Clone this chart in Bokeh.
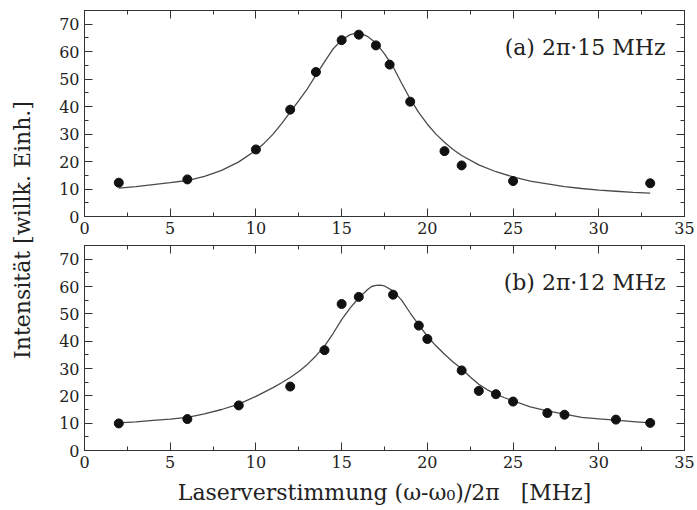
import math
from bokeh.plotting import figure
from bokeh.models import (Range1d, LinearAxis, SingleIntervalTicker, Label,
                          CustomJSTickFormatter)
from bokeh.layouts import row, column
from bokeh.embed import file_html
from bokeh.resources import INLINE

# ---------------- data ----------------
# panel (a): measured points and fitted curve (read from the picture)
a_x = [2, 6, 10, 12, 13.5, 15, 16, 17, 17.8, 19, 21, 22, 25, 33]
a_y = [12.3, 13.5, 24.4, 38.9, 52.6, 64.2, 66.2, 62.3, 55.3, 41.8, 23.8, 18.6, 12.9, 12.1]
a_fit_x = [2, 3, 4, 5, 6, 7, 8, 9, 10, 10.5, 11, 11.5, 12, 12.5, 13, 13.5, 14, 14.5,
           15, 15.5, 15.75, 16, 16.25, 16.5, 17, 17.5, 18, 18.5, 19, 19.5, 20, 20.5,
           21, 21.5, 22, 23, 24, 25, 26, 27, 28, 29, 30, 31, 32, 33]
a_fit_y = [10.3, 10.9, 11.6, 12.3, 13.1, 14.6, 16.8, 19.9, 24.1, 26.8, 30.0, 33.8, 38.0,
           42.2, 46.5, 51.5, 56.3, 61.0, 64.3, 66.2, 66.6, 66.7, 66.3, 65.6, 63.2, 59.2,
           54.5, 48.5, 42.8, 37.8, 33.6, 30.0, 27.0, 24.4, 22.2, 18.8, 16.3, 14.4, 12.9,
           11.9, 10.9, 10.2, 9.6, 9.2, 8.8, 8.5]

b_x = [2, 6, 9, 12, 14, 15, 16, 18, 19.5, 20, 22, 23, 24, 25, 27, 28, 31, 33]
b_y = [9.9, 11.5, 16.5, 23.4, 36.7, 53.6, 56.2, 57.0, 45.7, 40.8, 29.3, 21.8, 20.6,
       17.9, 13.7, 13.1, 11.3, 10.1]
b_fit_x = [2, 3, 4, 5, 6, 7, 8, 9, 10, 11, 11.5, 12, 12.5, 13, 13.5, 14, 14.5, 15, 15.5,
           16, 16.5, 16.75, 17, 17.25, 17.5, 18, 18.5, 19, 19.5, 20, 20.5, 21, 21.5, 22,
           22.5, 23, 23.5, 24, 24.5, 25, 26, 27, 28, 29, 30, 31, 32, 33]
b_fit_y = [10.1, 10.5, 11.0, 11.5, 12.1, 13.4, 15.0, 17.0, 19.8, 23.0, 24.8, 26.7, 28.9,
           31.5, 34.6, 38.2, 42.8, 47.9, 52.2, 55.8, 58.8, 60.0, 60.4, 60.5, 60.2, 58.4,
           55.0, 50.3, 46.0, 41.8, 38.3, 35.2, 32.4, 29.9, 26.9, 24.2, 22.2, 20.6, 19.3,
           18.2, 16.0, 14.5, 13.3, 12.1, 11.6, 11.1, 10.6, 10.1]

panel_labels = ["(a) 2\u03c0\u00b715 MHz", "(b) 2\u03c0\u00b712 MHz"]
x_label = "Laserverstimmung (\u03c9-\u03c9\u2080)/2\u03c0 \u00a0\u00a0[MHz]"
y_label = "Intensit\u00e4t [willk. Einh.]"

FONT = "DejaVu Serif"
AX = "#333333"


def style_axis(ax, show_labels):
    ax.axis_line_color = AX
    ax.axis_line_width = 1
    ax.major_tick_in = 8
    ax.major_tick_out = 0
    ax.minor_tick_in = 4
    ax.minor_tick_out = 0
    ax.major_tick_line_color = AX
    ax.minor_tick_line_color = AX
    ax.major_label_text_font = FONT
    ax.major_label_text_font_size = "16px"
    ax.major_label_text_color = "#222222"
    if show_labels:
        ax.major_label_standoff = 5
    else:
        ax.formatter = CustomJSTickFormatter(code="return ''")
        ax.major_label_standoff = 0
        ax.major_label_text_font_size = "0px"


def make_panel(px, py, fx, fy, label, frame_h, top, bottom, xlab=None):
    p = figure(frame_width=600, frame_height=frame_h,
               x_range=Range1d(0, 35), y_range=Range1d(0, 75),
               output_backend="svg", toolbar_location=None,
               x_axis_type=None, y_axis_type=None,
               min_border_left=46, min_border_right=13,
               min_border_top=top, min_border_bottom=bottom)
    p.xgrid.visible = False
    p.ygrid.visible = False
    p.outline_line_color = AX
    p.background_fill_color = "white"
    p.border_fill_color = "white"

    for side in ["below", "above"]:
        ax = LinearAxis(ticker=SingleIntervalTicker(interval=5, num_minor_ticks=2))
        style_axis(ax, side == "below")
        if side == "below" and xlab:
            ax.axis_label = xlab
            ax.axis_label_text_font = FONT
            ax.axis_label_text_font_size = "22px"
            ax.axis_label_text_font_style = "normal"
            ax.axis_label_text_color = "#222222"
            ax.axis_label_standoff = 9
        p.add_layout(ax, side)
    for side in ["left", "right"]:
        ax = LinearAxis(ticker=SingleIntervalTicker(interval=10, num_minor_ticks=2))
        style_axis(ax, side == "left")
        p.add_layout(ax, side)

    p.line(fx, fy, line_color="#4a4a4a", line_width=1.3)
    p.scatter(px, py, size=9, fill_color="#111111", line_color="#111111")

    p.add_layout(Label(x=33.9, y=61.5, text=label, text_align="right",
                       text_baseline="alphabetic", text_font=FONT,
                       text_font_size="22px", text_color="#222222"))
    return p


pa = make_panel(a_x, a_y, a_fit_x, a_fit_y, panel_labels[0], 206, 10, 27)
pb = make_panel(b_x, b_y, b_fit_x, b_fit_y, panel_labels[1], 205, 2, 60, xlab=x_label)

lab = figure(width=38, height=510, x_range=Range1d(0, 1), y_range=Range1d(0, 1),
             output_backend="svg", toolbar_location=None,
             x_axis_type=None, y_axis_type=None, min_border=0)
lab.xgrid.visible = False
lab.ygrid.visible = False
lab.outline_line_color = None
lab.add_layout(Label(x=0.58, y=0.55, text=y_label, angle=math.pi / 2,
                     text_align="center", text_baseline="middle",
                     text_font=FONT, text_font_size="22px", text_color="#222222"))

layout = row(lab, column(pa, pb))

open("out.html", "w").write(file_html(layout, INLINE))
